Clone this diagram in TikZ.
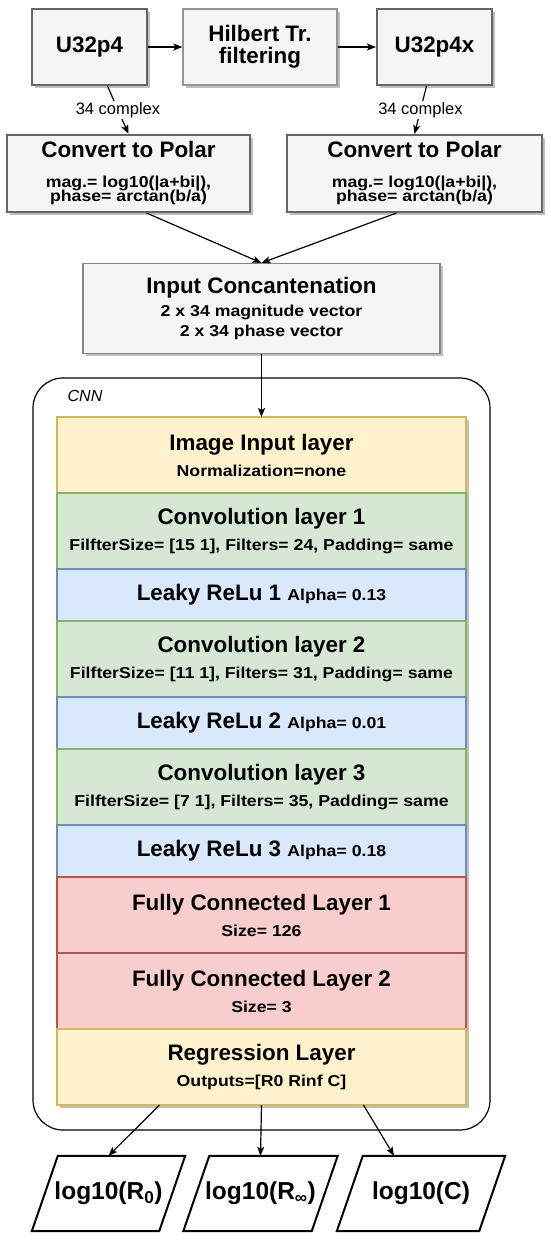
\documentclass[tikz,border=0pt]{standalone}
\usepackage{fontspec}
\setmainfont{Liberation Sans}
\newfontfamily\widefont[FakeStretch=1.12]{Liberation Sans}
\usetikzlibrary{positioning,shadows,arrows.meta}

\definecolor{boxfill}{HTML}{F5F5F5}
\definecolor{boxline}{HTML}{666666}
\definecolor{yelfill}{HTML}{FFF2CC}
\definecolor{yelline}{HTML}{D6B656}
\definecolor{grnfill}{HTML}{D5E8D4}
\definecolor{grnline}{HTML}{82B366}
\definecolor{blufill}{HTML}{DAE8FC}
\definecolor{bluline}{HTML}{6C8EBF}
\definecolor{redfill}{HTML}{F8CECC}
\definecolor{redline}{HTML}{B85450}

\newcommand{\subtxt}[1]{{\widefont\bfseries\fontsize{15.8}{18}\selectfont #1}}

\tikzset{
  shade/.style={drop shadow={shadow xshift=2.5pt, shadow yshift=-2.5pt, opacity=0.25, fill=black}},
  graybox/.style={draw=boxline, fill=boxfill, line width=2pt, inner sep=0pt, align=center,
    font=\fontsize{22.4}{26}\selectfont\bfseries, shade},
  layer/.style={minimum width=409, inner sep=0pt, outer sep=0pt, line width=1.2pt, align=center,
    font=\fontsize{22.4}{26}\selectfont\bfseries, shade},
  yellayer/.style={layer, minimum height=76, draw=yelline, fill=yelfill},
  convlayer/.style={layer, minimum height=76, draw=grnline, fill=grnfill},
  relulayer/.style={layer, minimum height=52, draw=bluline, fill=blufill},
  fclayer/.style={layer, minimum height=76, draw=redline, fill=redfill},
  outbox/.style={minimum height=75, inner sep=0pt, font=\fontsize{24.5}{28}\selectfont\bfseries},
  conn/.style={->, line width=1.2pt},
}

\begin{document}
\begin{tikzpicture}[x=1pt, y=-1pt, >={Stealth[length=9pt, width=7pt, inset=2pt]}]
  \useasboundingbox (0,0) rectangle (550,1242);

  % eingangssignale
  \node[graybox, minimum width=115, minimum height=76] (u32) at (89.5,47) {U32p4};
  \node[graybox, minimum width=154, minimum height=76, line width=1.2pt, draw=boxline!70] (hil) at (260,47)
    {Hilbert Tr.\\[-4pt]filtering};
  \node[graybox, minimum width=115, minimum height=76] (u32x) at (434.5,47) {U32p4x};
  \draw[conn] (u32) -- (hil);
  \draw[conn] (hil) -- (u32x);

  % polarkoordinaten
  \node[graybox, minimum width=243, minimum height=77] (polL) at (128.5,173.5)
    {Convert to Polar\\[4pt]\subtxt{mag.= log10(|a+bi|),}\\[-12pt]\subtxt{phase= arctan(b/a)}};
  \node[graybox, minimum width=255, minimum height=77] (polR) at (414.5,173.5)
    {Convert to Polar\\[4pt]\subtxt{mag.= log10(|a+bi|),}\\[-12pt]\subtxt{phase= arctan(b/a)}};
  \draw[conn] ([xshift=18]u32.south) -- node[fill=white, inner sep=1pt, font=\fontsize{16.5}{18}\selectfont] (lblL) {34 complex} (polL.north);
  \draw[conn] ([xshift=-8]u32x.south) -- node[fill=white, inner sep=1pt, font=\fontsize{16.5}{18}\selectfont] (lblR) {34 complex} (polR.north);

  % zusammenfuehrung
  \node[graybox, minimum width=357, minimum height=90, line width=1.2pt, draw=boxline!80] (cat) at (261.5,308.5)
    {Input Concantenation\\[-2.5pt]\subtxt{2 x 34 magnitude vector}\\[-6pt]\subtxt{2 x 34 phase vector}};
  \draw[conn] ([xshift=18]polL.south) -- (cat.north);
  \draw[conn] ([xshift=-18]polR.south) -- (cat.north);

  % CNN rahmen
  \node[draw, line width=1.2pt, rounded corners=30pt, minimum width=457, minimum height=752] (cnn) at (261.5,754) {};
  \node[font=\fontsize{16}{18}\selectfont\itshape] (cnnlbl) at (85,396) {CNN};

  % schichten
  \node[yellayer] (inp) at (261.5,455) {Image Input layer\\\subtxt{Normalization=none}};
  \node[convlayer, below=0pt of inp] (conv1) {Convolution layer 1\\\subtxt{FilfterSize= [15 1], Filters= 24, Padding= same}};
  \node[relulayer, below=0pt of conv1] (relu1) {Leaky ReLu 1 \subtxt{Alpha= 0.13}};
  \node[convlayer, below=0pt of relu1] (conv2) {Convolution layer 2\\\subtxt{FilfterSize= [11 1], Filters= 31, Padding= same}};
  \node[relulayer, below=0pt of conv2] (relu2) {Leaky ReLu 2 \subtxt{Alpha= 0.01}};
  \node[convlayer, below=0pt of relu2] (conv3) {Convolution layer 3\\\subtxt{FilfterSize= [7 1], Filters= 35, Padding= same}};
  \node[relulayer, below=0pt of conv3] (relu3) {Leaky ReLu 3 \subtxt{Alpha= 0.18}};
  \node[fclayer, below=0pt of relu3] (fc1) {Fully Connected Layer 1\\\subtxt{Size= 126}};
  \node[fclayer, below=0pt of fc1] (fc2) {Fully Connected Layer 2\\\subtxt{Size= 3}};
  \node[yellayer, below=0pt of fc2] (reg) {Regression Layer\\\subtxt{Outputs=[R0 Rinf C]}};
  \draw[conn] (cat.south) -- (inp.north);

  % ausgaenge (parallelogramme, oben um 13 nach rechts versetzt)
  \node[outbox, minimum width=127] (out1) at (108.5,1193.5) {log10(R\textsubscript{0})};
  \node[outbox, minimum width=128] (out2) at (260.5,1193.5) {log10(R\textsubscript{∞})};
  \node[outbox, minimum width=142] (out3) at (421,1193.5) {log10(C)};
  \foreach \o in {out1,out2,out3}
    \draw[line width=2pt, line join=miter] ([xshift=13]\o.north west) -- ([xshift=13]\o.north east)
      -- ([xshift=-13]\o.south east) -- ([xshift=-13]\o.south west) -- cycle;
  \draw[conn] ([xshift=-102]reg.south) -- (out1.north);
  \draw[conn] (reg.south) -- (out2.north);
  \draw[conn] ([xshift=102]reg.south) -- ([xshift=-27]out3.north);
\end{tikzpicture}
\end{document}
